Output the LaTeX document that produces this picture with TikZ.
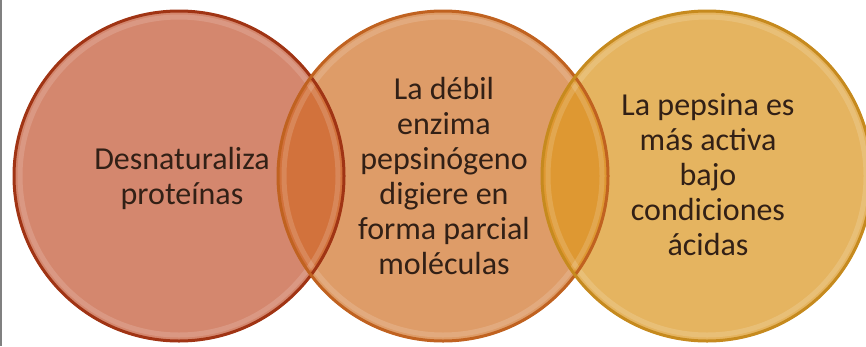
\documentclass[tikz,border=0pt]{standalone}
\usepackage{fontspec}
\setmainfont{Carlito}
\definecolor{leftfill}{RGB}{212,135,110}
\definecolor{midfill}{RGB}{222,156,104}
\definecolor{rightfill}{RGB}{229,180,96}
\definecolor{lensleft}{RGB}{210,114,60}
\definecolor{lensright}{RGB}{222,152,50}
\definecolor{leftline}{RGB}{160,52,20}
\definecolor{midline}{RGB}{192,98,32}
\definecolor{rightline}{RGB}{198,138,30}
\definecolor{textcol}{RGB}{50,32,22}

\begin{document}
\begin{tikzpicture} [
  x=1pt, y=-1pt,
  rim/.style={draw=white, draw opacity=0.15, line width=5pt},
  ring/.style={line width=3pt},
  label/.style={align=center, text=textcol, font=\fontsize{32}{35}\selectfont}
  ]
  \useasboundingbox (0,0) rectangle (866,346);
  \fill[white] (0,0) rectangle (866,346);
  \draw[gray, line width=2pt] (1,0) -- (1,346);
  \coordinate (cl) at (179,176);
  \coordinate (cm) at (443,176);
  \coordinate (cr) at (707,176);
  \fill[leftfill] (cl) circle (166);
  \fill[midfill] (cm) circle (166);
  \fill[rightfill] (cr) circle (166);
  \begin{scope}
    \clip (cl) circle (166);
    \fill[lensleft] (cm) circle (166);
  \end{scope}
  \begin{scope}
    \clip (cm) circle (166);
    \fill[lensright] (cr) circle (166);
  \end{scope}
  \draw[rim] (cl) circle (159);
  \draw[rim] (cm) circle (159);
  \draw[rim] (cr) circle (159);
  \draw[ring, leftline] (cl) circle (165);
  \draw[ring, midline] (cm) circle (165);
  \draw[ring, rightline] (cr) circle (165);
  \node (desn) [label] at (182,178) {Desnaturaliza\\proteínas};
  \node (enzima) [label] at (444,176) {La débil\\enzima\\pepsinógeno\\digiere en\\forma parcial\\moléculas};
  \node (pepsina) [label] at (708,175) {La pepsina es\\más activa\\bajo\\condiciones\\ácidas};
\end{tikzpicture}
\end{document}
